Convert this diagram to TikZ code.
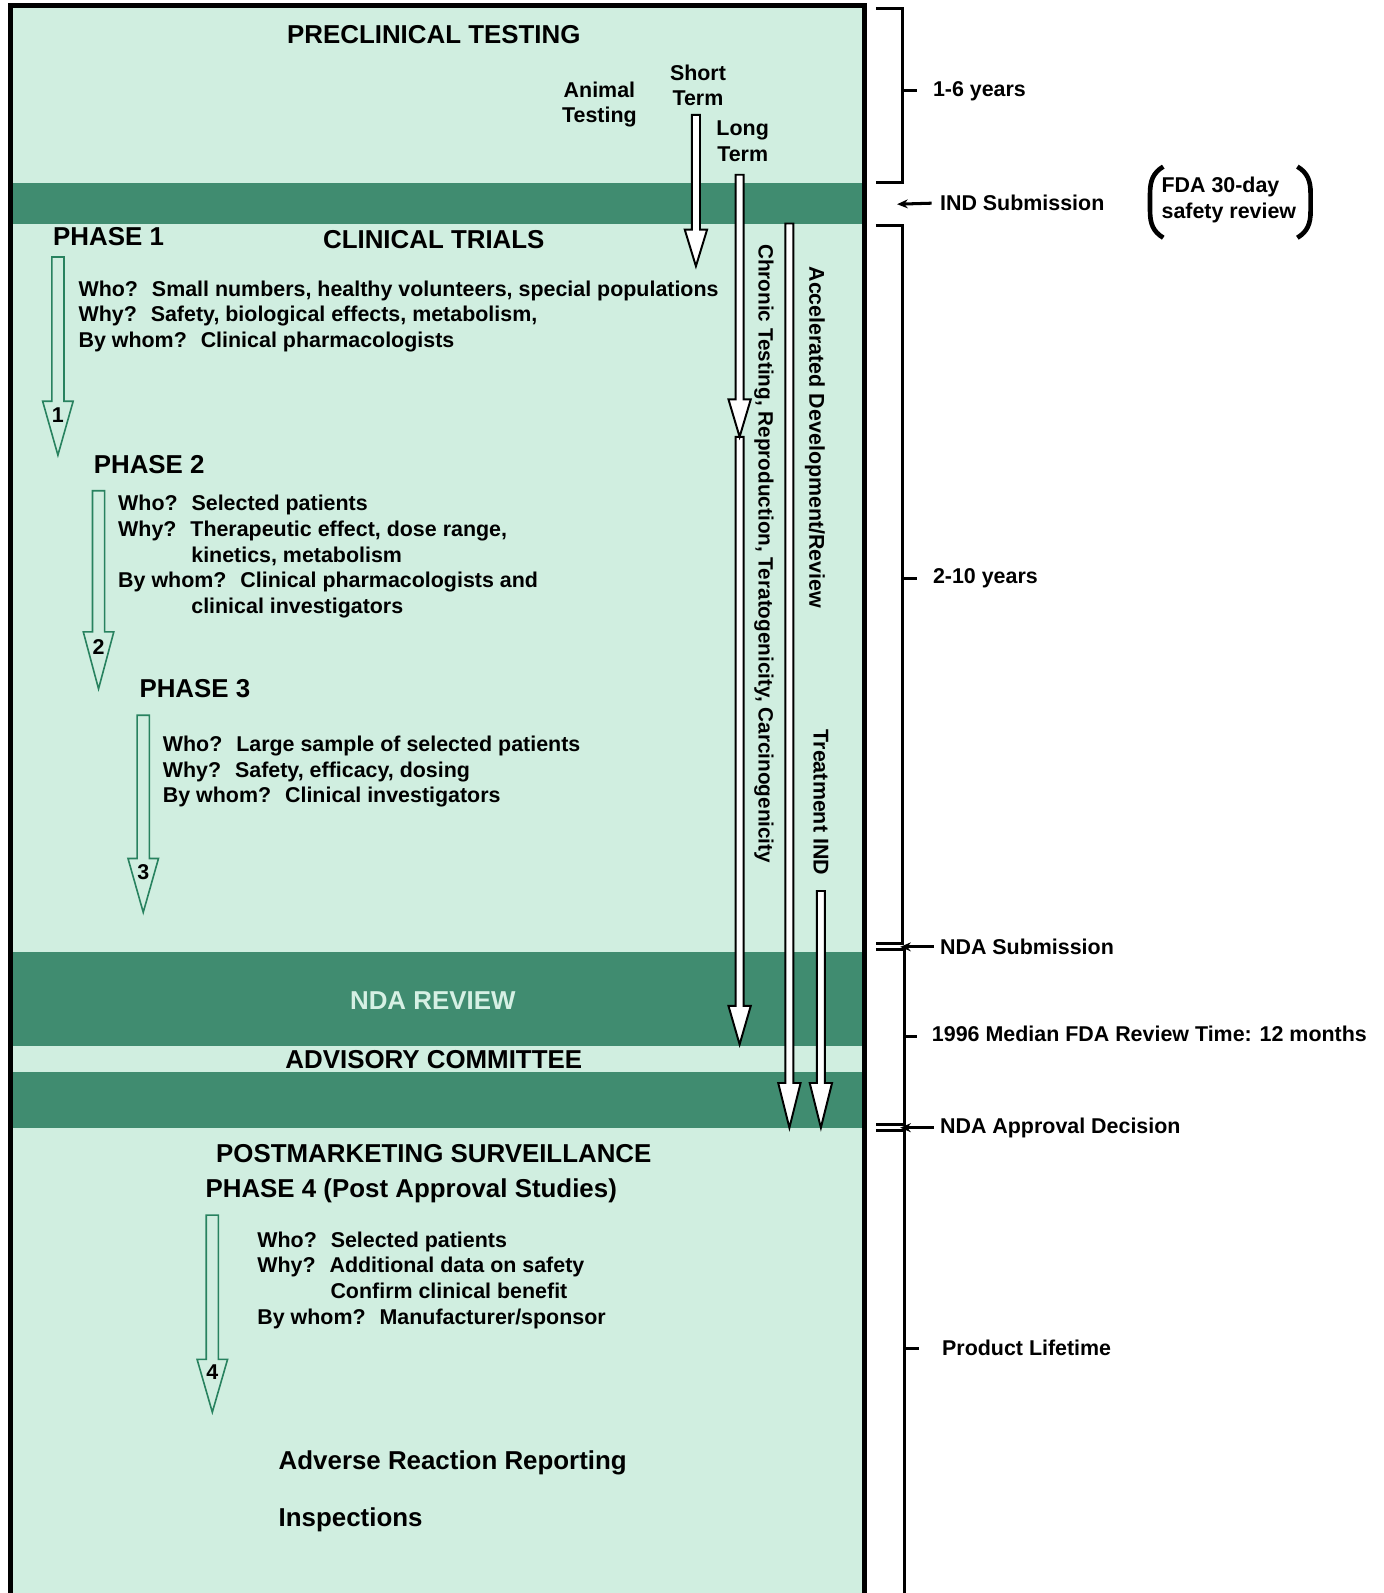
\documentclass[tikz,border=0pt]{standalone}
\usepackage{fontspec}
\setmainfont{Liberation Sans}
\usetikzlibrary{arrows.meta}
\definecolor{mint}{RGB}{208,238,224}
\definecolor{band}{RGB}{64,140,112}
\definecolor{phasegreen}{RGB}{40,130,95}
\definecolor{pale}{RGB}{214,240,228}
\tikzset{
  heading/.style={font=\fontsize{14.5}{17}\selectfont\bfseries, inner sep=0pt},
  body/.style={font=\fontsize{12}{14.4}\selectfont\bfseries, align=left, inner sep=0pt},
  side/.style={font=\fontsize{12}{14.4}\selectfont\bfseries, inner sep=0pt, anchor=west},
  vert/.style={font=\fontsize{12}{14.4}\selectfont\bfseries, inner sep=0pt, rotate=-90, anchor=west},
  num/.style={font=\fontsize{12}{14}\selectfont\bfseries, inner sep=0pt},
  phasearr/.style={draw=phasegreen, line width=0.9pt, fill=mint},
  whitearr/.style={draw=black, line width=1.1pt, fill=white},
  brace/.style={line width=1.7pt},
  pointer/.style={line width=1.7pt, -{Stealth[length=6pt,width=5pt]}},
  paren/.style={line width=2.6pt}
}
\newcommand{\gap}{\hspace{0.65em}}
\newcommand{\indentline}{\hspace*{1.44cm}}

\begin{document}
\begin{tikzpicture}[x=0.02cm, y=-0.02cm]
    \useasboundingbox (0,0) rectangle (1362,1568);
    \fill[mint] (10,5) rectangle (851,1568);
    \fill[band] (10,180) rectangle (851,220);
    \fill[band] (10,937) rectangle (851,1030);
    \fill[band] (10,1055) rectangle (851,1110);
    \draw[line width=2.85pt] (10,1572) -- (10,5) -- (851,5) -- (851,1572);

    \draw (427,34) node[heading] (preclin) {PRECLINICAL TESTING};
    \draw (590,103) node[body, align=center] (animal) {Animal\\Testing};
    \draw (687,84) node[body, align=center] (short) {Short\\Term};
    \draw (731,139) node[body, align=center] (long) {Long\\Term};

    \draw (52,233) node[heading, anchor=west] (ph1) {PHASE 1};
    \draw (427,236) node[heading] (clin) {CLINICAL TRIALS};
    \draw (77,276) node[body, anchor=north west] (ph1text)
        {Who?\gap Small numbers, healthy volunteers, special populations\\
         Why?\gap Safety, biological effects, metabolism,\\
         By whom?\gap Clinical pharmacologists};

    \draw (92,457) node[heading, anchor=west] (ph2) {PHASE 2};
    \draw (116,487) node[body, anchor=north west] (ph2text)
        {Who?\gap Selected patients\\
         Why?\gap Therapeutic effect, dose range,\\
         \indentline kinetics, metabolism\\
         By whom?\gap Clinical pharmacologists and\\
         \indentline clinical investigators};

    \draw (137,678) node[heading, anchor=west] (ph3) {PHASE 3};
    \draw (160,724) node[body, anchor=north west] (ph3text)
        {Who?\gap Large sample of selected patients\\
         Why?\gap Safety, efficacy, dosing\\
         By whom?\gap Clinical investigators};

    \draw (426,985) node[heading, text=pale] (ndarev) {NDA REVIEW};
    \draw (427,1043) node[heading] (advis) {ADVISORY COMMITTEE};
    \draw (427,1135) node[heading] (postmkt) {POSTMARKETING SURVEILLANCE};
    \draw (202,1172) node[heading, anchor=west] (ph4) {PHASE 4 (Post Approval Studies)};
    \draw (253,1212) node[body, anchor=north west] (ph4text)
        {Who?\gap Selected patients\\
         Why?\gap Additional data on safety\\
         \indentline Confirm clinical benefit\\
         By whom?\gap Manufacturer/sponsor};
    \draw (274,1440) node[heading, anchor=west] (adverse) {Adverse Reaction Reporting};
    \draw (274,1496) node[heading, anchor=west] (inspect) {Inspections};

    \draw[phasearr] (51,253) -- (63,253) -- (63,395) -- (72,395) -- (57,448) -- (42,395) -- (51,395) -- cycle;
    \draw (57,409) node[num] (n1) {1};
    \draw[phasearr] (91,483) -- (103,483) -- (103,622) -- (112,622) -- (97,678) -- (82,622) -- (91,622) -- cycle;
    \draw (97,637) node[num] (n2) {2};
    \draw[phasearr] (135,704) -- (147,704) -- (147,845) -- (156,845) -- (141,898) -- (126,845) -- (135,845) -- cycle;
    \draw (141,858) node[num] (n3) {3};
    \draw[phasearr] (203,1196) -- (215,1196) -- (215,1338) -- (224,1338) -- (209,1390) -- (194,1338) -- (203,1338) -- cycle;
    \draw (209,1351) node[num] (n4) {4};

    \draw[whitearr] (681,113) -- (689,113) -- (689,226) -- (696,226) -- (685,262) -- (674,226) -- (681,226) -- cycle;
    \draw[whitearr] (724,430) -- (732,430) -- (732,990) -- (739,990) -- (728,1028) -- (717,990) -- (724,990) -- cycle;
    \draw[whitearr] (724,172) -- (732,172) -- (732,393) -- (739,393) -- (728,430) -- (717,393) -- (724,393) -- cycle;
    \draw[whitearr] (773,220) -- (781,220) -- (781,1066) -- (788,1066) -- (777,1110) -- (766,1066) -- (773,1066) -- cycle;
    \draw[whitearr] (804,877) -- (812,877) -- (812,1066) -- (819,1066) -- (808,1110) -- (797,1066) -- (804,1066) -- cycle;

    \draw (752,240) node[vert, font=\fontsize{11.6}{14}\selectfont\bfseries] (chronic) {Chronic Testing, Reproduction, Teratogenicity, Carcinogenicity};
    \draw (802,262) node[vert] (accel) {Accelerated Development/Review};
    \draw (808,718) node[vert] (treat) {Treatment IND};

    \draw[brace] (862,8) -- (888,8) -- (888,180) -- (862,180);
    \draw[brace] (888,89) -- (903,89);
    \draw (918,90) node[side] (yrs1) {1-6 years};
    \draw[brace] (862,222) -- (888,222) -- (888,929) -- (862,929);
    \draw[brace] (888,569) -- (903,569);
    \draw (918,569) node[side] (yrs2) {2-10 years};
    \draw[brace] (862,935) -- (890,935) -- (890,1107) -- (862,1107);
    \draw[brace] (890,1020) -- (903,1020);
    \draw (917,1018) node[side] (median) {1996 Median FDA Review Time: 12 months};
    \draw[brace] (862,1113) -- (890,1113) -- (890,1572);
    \draw[brace] (890,1327) -- (905,1327);
    \draw (927,1327) node[side] (lifetime) {Product Lifetime};

    \coordinate (indtip) at (883,201);
    \coordinate (ndatip) at (886,932);
    \coordinate (apptip) at (886,1110);
    \draw (925,200) node[side] (indsub) {IND Submission};
    \draw[pointer] (indsub.west) ++(-8,0) -- (indtip);
    \draw (925,932) node[side] (ndasub) {NDA Submission};
    \draw[pointer] (ndasub.west) ++(-6,0) -- (ndatip);
    \draw (925,1110) node[side] (ndaapp) {NDA Approval Decision};
    \draw[pointer] (ndaapp.west) ++(-6,0) -- (apptip);

    \draw (1143,197) node[body, anchor=west] (fdarev) {FDA 30-day\\safety review};
    \draw[paren] (1145,164) .. controls (1135,170) and (1132,178) .. (1132,190) -- (1132,208) .. controls (1132,220) and (1135,228) .. (1145,234);
    \draw[paren] (1277,164) .. controls (1287,170) and (1290,178) .. (1290,190) -- (1290,208) .. controls (1290,220) and (1287,228) .. (1277,234);
\end{tikzpicture}
\end{document}
